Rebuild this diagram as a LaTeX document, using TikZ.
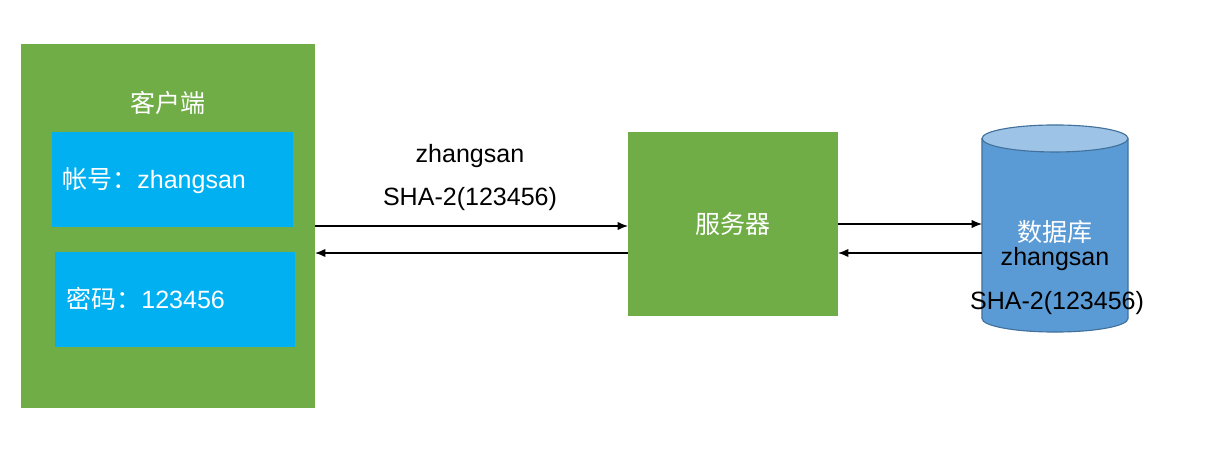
\documentclass[tikz,border=0pt]{standalone}
\usepackage{fontspec}
\setmainfont{Liberation Sans}
\newfontfamily\cjk{Noto Sans CJK SC}
\usetikzlibrary{shapes.geometric, arrows.meta, positioning}
\definecolor{boxgreen}{HTML}{70AD47}
\definecolor{fieldblue}{HTML}{00B0F0}
\definecolor{dbblue}{HTML}{5B9BD5}
\definecolor{dbtop}{HTML}{9DC3E6}
\definecolor{dbline}{HTML}{41719C}

\begin{document}
\begin{tikzpicture}[
    x=0.025cm, y=-0.025cm,
    block/.style={
        rectangle,
        fill=boxgreen,
        inner sep=0pt,
        outer sep=0pt
    },
    field/.style={
        rectangle,
        fill=fieldblue,
        inner sep=0pt,
        outer sep=0pt,
        minimum width=6cm,
        minimum height=2.375cm
    },
    txt/.style={
        inner sep=0pt,
        font=\fontsize{17.8}{21}\selectfont
    },
    msg/.style={
        -{Latex[length=2.6mm, width=2.1mm]},
        line width=0.9pt
    },
    dbshape/.style={
        draw=dbline,
        line width=0.8pt
    }
]

\useasboundingbox (0,0) rectangle (1208,464);

% client side
\node[block, minimum width=7.35cm, minimum height=9.1cm] (client) at (168,226) {};
\node[txt, text=white] (clienttitle) at (168,103) {\cjk 客户端};
\node[field] (account) at (172.5,179.5) {};
\node[field] (password) at (175,299.5) {};
\node[txt, text=white, anchor=west] (accounttext) at (62,181) {{\cjk 帐号：}zhangsan};
\node[txt, text=white, anchor=west] (passwordtext) at (66,299) {{\cjk 密码：}123456};

% server
\node[block, minimum width=5.25cm, minimum height=4.6cm] (server) at (733,224) {};
\node[txt, text=white] (servertitle) at (733,224) {\cjk 服务器};

% database
\node[rectangle, inner sep=0pt, outer sep=0pt, minimum width=3.65cm, minimum height=5.175cm] (db) at (1055,228.5) {};
\path[dbshape, fill=dbblue] ([yshift=-0.3375cm]db.north west) -- ([yshift=0.3375cm]db.south west)
    arc[start angle=180, end angle=360, x radius=1.825cm, y radius=0.3375cm]
    -- ([yshift=-0.3375cm]db.north east);
\path[dbshape, fill=dbtop] ([yshift=-0.3375cm]db.north) ellipse[x radius=1.825cm, y radius=0.3375cm];
\node[txt, text=white] (dbtitle) at (1055,232) {\cjk 数据库};
\node[txt] (dbuser) at (1055,259) {zhangsan};
\node[txt] (dbhash) at (1057,303) {SHA-2(123456)};

% message labels
\node[txt] (msguser) at (470,156) {zhangsan};
\node[txt] (msghash) at (470,199) {SHA-2(123456)};

\draw[msg] (client.east) -- (client.east -| server.west);
\draw[msg] ([yshift=-0.725cm]server.west) -- ([yshift=-0.725cm]server.west -| client.east);
\draw[msg] (server.east) -- (server.east -| db.west);
\draw[msg] ([yshift=-0.725cm]server.east -| db.west) -- ([yshift=-0.725cm]server.east);

\end{tikzpicture}
\end{document}
